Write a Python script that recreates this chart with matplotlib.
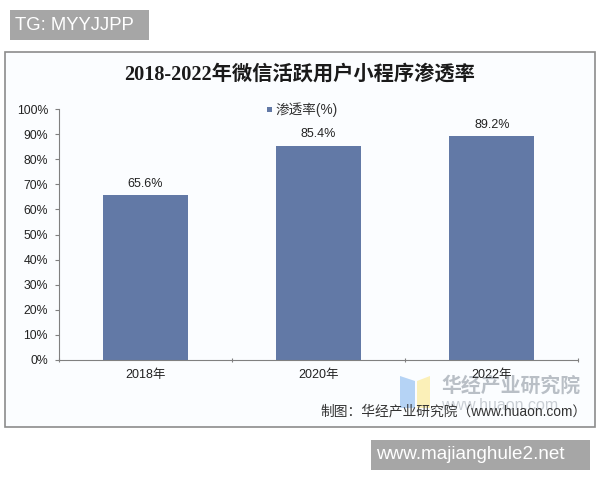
import matplotlib.pyplot as plt
from matplotlib.patches import Rectangle, Polygon

plt.rcParams['font.family'] = ['Liberation Sans', 'Noto Sans CJK SC']

years = ['2018年', '2020年', '2022年']
rates = [65.6, 85.4, 89.2]
y_ticks = [0, 10, 20, 30, 40, 50, 60, 70, 80, 90, 100]

W, H = 600, 480
gray = '#808080'


def fx(px):
    return px / W


def fy(py):
    return 1 - py / H


fig = plt.figure(figsize=(6, 4.8), dpi=100, facecolor='white')

# outer chart frame, has to stay under the axes
fig.add_artist(Rectangle((fx(4.5), fy(427)), fx(590.5), 375 / H, transform=fig.transFigure,
                         fc='#fbfdff', ec='#8c8c8c', lw=1.2, zorder=-5))

ax = fig.add_axes([fx(58.5), fy(360), fx(520), 251 / H])
ax.patch.set_alpha(0)
x = range(len(years))
ax.bar(x, rates, width=0.49, color='#6279a6', zorder=2)
for i, r in zip(x, rates):
    ax.text(i, r + 2.2, '{}%'.format(r), ha='center', va='bottom', fontsize=9, color='#222222')

ax.set_xlim(-0.5, 2.5)
ax.set_ylim(0, 100)
ax.set_yticks(y_ticks)
ax.set_yticklabels(['{}%'.format(t) for t in y_ticks], fontsize=8.8, color='#222222')
ax.set_xticks([-0.5, 0.5, 1.5, 2.5])
ax.set_xticklabels([])
ax.tick_params(axis='y', length=3, width=0.8, color=gray, direction='out', pad=4.5)
ax.tick_params(axis='x', length=3, width=0.8, color=gray, direction='inout')
for s in ['top', 'right']:
    ax.spines[s].set_visible(False)
for s in ['left', 'bottom']:
    ax.spines[s].set_color(gray)
for i, y in zip(x, years):
    ax.annotate(y, (i, 0), xytext=(0, -11), textcoords='offset points', ha='center', va='center',
                fontsize=9, color='#222222', zorder=10)

# title and legend
fig.text(fx(300), fy(75), '2018-2022年微信活跃用户小程序渗透率', ha='center', va='center', fontsize=14.6,
         fontweight='bold', family=['Liberation Serif', 'Noto Sans CJK SC'], color='#1a1a1a')
fig.add_artist(Rectangle((fx(267), fy(112)), 5 / W, 5 / H, transform=fig.transFigure, fc='#6279a6', ec='none'))
fig.text(fx(275), fy(109.5), '渗透率(%)', ha='left', va='center', fontsize=9.8, color='#333333')

# watermark logo
fig.add_artist(Polygon([(fx(400), fy(376)), (fx(415), fy(381)), (fx(415), fy(408)), (fx(400), fy(408))],
                       transform=fig.transFigure, fc='#b5d3f5', ec='none', zorder=-1))
fig.add_artist(Polygon([(fx(417), fy(381)), (fx(430), fy(376)), (fx(430), fy(408)), (fx(417), fy(408))],
                       transform=fig.transFigure, fc='#fbf0b8', ec='none', zorder=-1))
fig.text(fx(441), fy(386), '华经产业研究院', ha='left', va='center', fontsize=14.3, fontweight='bold',
         color='#b9bfc6', zorder=-1)
fig.text(fx(441), fy(405), 'www.huaon.com', ha='left', va='center', fontsize=11.5, color='#c9ced4', zorder=-1)
fig.text(fx(320), fy(411), '制图：华经产业研究院（www.huaon.com）', ha='left', va='center', fontsize=9.9,
         color='#333333')

# overlay tags
fig.add_artist(Rectangle((fx(10), fy(40)), 139 / W, 30 / H, transform=fig.transFigure, fc='#a6a6a6', ec='none'))
fig.text(fx(15), fy(25.5), 'TG: MYYJJPP', ha='left', va='center', fontsize=13.3, color='white')
fig.add_artist(Rectangle((fx(371), fy(470)), 219 / W, 30 / H, transform=fig.transFigure, fc='#a6a6a6', ec='none'))
fig.text(fx(376), fy(454.5), 'www.majianghule2.net', ha='left', va='center', fontsize=13.6, color='white')

fig.savefig('out.png', dpi=100)
